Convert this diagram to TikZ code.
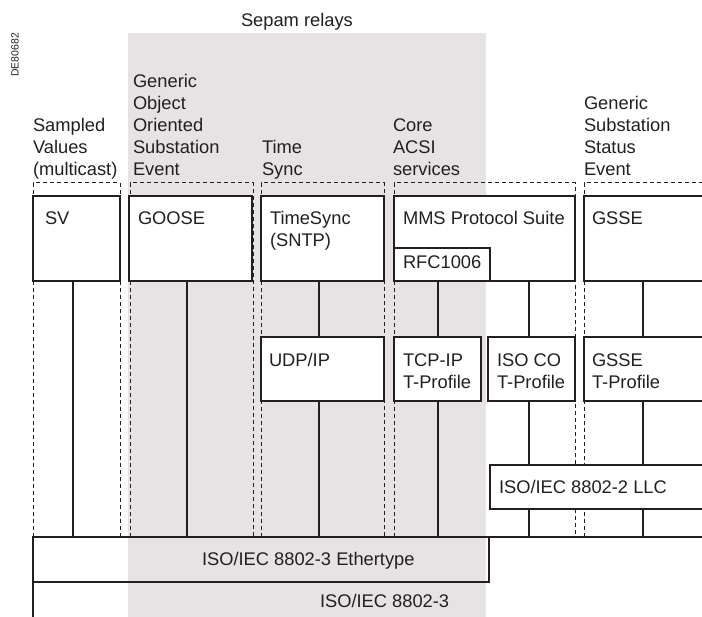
\documentclass[tikz,border=0pt]{standalone}
\usepackage{fontspec}
\setmainfont{Liberation Sans}
\definecolor{ink}{RGB}{35,31,32}
\definecolor{relaygray}{RGB}{231,227,228}
% left-aligned lines stacked downward; the baseline is that of the first line
\newcommand\linesdown[1]{\vtop{\let\\\cr\halign{##\hfil\cr#1\crcr}}}
\begin{document}
\begin{tikzpicture}[x=1bp,y=-1bp,
  box/.style={draw=ink, fill=white, line width=1.7bp, inner sep=0, outer sep=0, anchor=north west},
  link/.style={draw=ink, line width=1.7bp},
  group/.style={draw=ink, line width=1bp, dash pattern=on 4bp off 3bp},
  txt/.style={anchor=base west, inner sep=0, outer sep=0, text=ink,
              font=\fontsize{18.3bp}{22bp}\selectfont}]
\clip (0,0) rectangle (702,617);

% shaded area covering the Sepam relay services
\fill[relaygray] (128,33) rectangle (486,617);
\node[txt] (sepam) at (241,27) {Sepam relays};
\node[text=ink, inner sep=0, rotate=90, font=\fontsize{10.5bp}{12bp}\selectfont] (ref) at (15,55) {DE80682};

% service group headings
\node[txt] (hsv) at (33,132) {\linesdown{Sampled\\Values\\(multicast)}};
\node[txt] (hgoose) at (133,88) {\linesdown{Generic\\Object\\Oriented\\Substation\\Event}};
\node[txt] (hts) at (262,154) {\linesdown{Time\\Sync}};
\node[txt] (hcore) at (393,132) {\linesdown{Core\\ACSI\\services}};
\node[txt] (hgsse) at (584,110) {\linesdown{Generic\\Substation\\Status\\Event}};

% dashed outlines of the service groups
\draw[group] (33,537) -- (33,183) -- (120,183) -- (120,537);
\draw[group] (130,537) -- (130,183) -- (253,183) -- (253,537);
\draw[group] (261,537) -- (261,183) -- (384,183) -- (384,537);
\draw[group] (394,537) -- (394,183) -- (575,183) -- (575,537);
\draw[group] (584,537) -- (584,183) -- (710,183);

% columns of the stack
\coordinate (c1) at (73,0);
\coordinate (c2) at (187,0);
\coordinate (c3) at (319,0);
\coordinate (c4) at (438,0);
\coordinate (c5) at (529,0);
\coordinate (c6) at (643,0);

% application layer
\node[box, minimum width=87bp, minimum height=85bp] (sv) at (33,196) {};
\node[box, minimum width=123bp, minimum height=85bp] (goose) at (129,196) {};
\node[box, minimum width=123bp, minimum height=85bp] (ts) at (261,196) {};
\node[box, minimum width=181bp, minimum height=85bp] (mms) at (394,196) {};
\node[box, minimum width=96bp, minimum height=33bp] (rfc) at (394,248) {};
\node[box, minimum width=140bp, minimum height=85bp] (gsse) at (584,196) {};

% transport profiles
\node[box, minimum width=123bp, minimum height=64bp] (udp) at (261,337) {};
\node[box, minimum width=87bp, minimum height=64bp] (tcp) at (394,337) {};
\node[box, minimum width=87bp, minimum height=64bp] (isoco) at (488,337) {};
\node[box, minimum width=140bp, minimum height=64bp] (gssetp) at (584,337) {};

% link layer
\node[box, minimum width=240bp, minimum height=44bp] (llc) at (490,465) {};
\node[box, fill=none, line width=2.2bp, minimum width=456bp, minimum height=45bp] (eth) at (33,537) {};
\coordinate (lanend) at (712,537);
\coordinate (lanfoot) at (33,620);

% connections between layers
\draw[link] (sv.south -| c1) -- (eth.north -| c1);
\draw[link] (goose.south -| c2) -- (eth.north -| c2);
\draw[link] (ts.south -| c3) -- (udp.north -| c3);
\draw[link] (udp.south -| c3) -- (eth.north -| c3);
\draw[link] (rfc.south -| c4) -- (tcp.north -| c4);
\draw[link] (tcp.south -| c4) -- (eth.north -| c4);
\draw[link] (mms.south -| c5) -- (isoco.north -| c5);
\draw[link] (isoco.south -| c5) -- (llc.north -| c5);
\draw[link] (llc.south -| c5) -- (eth.north -| c5);
\draw[link] (gsse.south -| c6) -- (gssetp.north -| c6);
\draw[link] (gssetp.south -| c6) -- (llc.north -| c6);
\draw[link] (llc.south -| c6) -- (eth.north -| c6);

% ISO/IEC 8802-3 medium
\draw[draw=ink, line width=2.2bp] (eth.north west) -- (lanend);
\draw[draw=ink, line width=2.2bp] (eth.south west) -- (lanfoot);

% box texts
\node[txt] (tsv) at (45,224) {SV};
\node[txt] (tgoose) at (138,224) {GOOSE};
\node[txt] (tts) at (270,224) {\linesdown{TimeSync\\(SNTP)}};
\node[txt] (tmms) at (403,224) {MMS Protocol Suite};
\node[txt] (trfc) at (403,268) {RFC1006};
\node[txt] (tgsse) at (592,224) {GSSE};
\node[txt] (tudp) at (269,366) {UDP/IP};
\node[txt] (ttcp) at (403,366) {\linesdown{TCP-IP\\T-Profile}};
\node[txt] (tisoco) at (497,366) {\linesdown{ISO CO\\T-Profile}};
\node[txt] (tgssetp) at (592,366) {\linesdown{GSSE\\T-Profile}};
\node[txt] (tllc) at (499,493) {ISO/IEC 8802-2 LLC};
\node[txt] (teth) at (202,565) {ISO/IEC 8802-3 Ethertype};
\node[txt] (tlan) at (320,607) {ISO/IEC 8802-3};
\end{tikzpicture}
\end{document}
